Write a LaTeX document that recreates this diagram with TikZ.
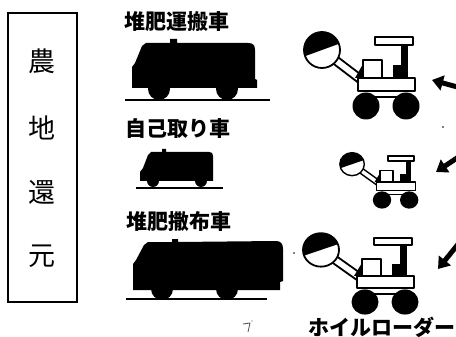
\documentclass[tikz,border=0pt]{standalone}
\usepackage{fontspec}
\newfontfamily\jp{Noto Sans CJK JP}
\usetikzlibrary{arrows.meta}

\tikzset{
  boxchar/.style={inner sep=0pt, font=\jp\fontsize{27}{27}\selectfont},
  vehtxt/.style={inner sep=0pt, font=\jp\bfseries\fontsize{21}{21}\selectfont},
  groundline/.style={line width=2.2pt, line cap=butt},
  fatarrow/.style={line width=5pt, -{Triangle[length=11pt,width=15pt]}},
}

% wheel loader: #1 x, #2 y (front wheel centre), #3 xscale, #4 yscale, #5 line width
\newcommand\drawloader[5]{%
\begin{scope}[shift={(#1,#2)}, xscale=#3, yscale=#4,
    ldout/.style={draw=black, fill=white, line width=#5, line join=round}]
  % boom arm
  \filldraw[ldout] (-46.4,-52.8) -- (-4.4,-20.8) -- (0.4,-27.2) -- (-41.6,-59.2) -- cycle;
  % lift cylinder
  \fill (-11,-28) -- (-3,-42) -- (-1,-28) -- cycle;
  % chassis and engine hood
  \filldraw[ldout] (-8,-28) rectangle (49,-15);
  \filldraw[ldout] (-3,-46) rectangle (16,-28);
  % cab post, step and roof
  \fill (27,-41) rectangle (37,-28);
  \fill (35,-61) rectangle (42,-28);
  \filldraw[ldout] (9,-69) rectangle (47,-61);
  % axle and wheels
  \draw[line width=#5] (0,-9) -- (40,-9);
  \fill (0,0) circle (13.5);
  \fill (40,0) circle (13.5);
  % bucket
  \fill[white] (-44,-56) circle (18);
  \fill (-44,-56) ++(160:18) arc[start angle=160, end angle=340, radius=18] -- cycle;
  \draw[line width=#5] (-44,-56) circle (18);
\end{scope}}

\begin{document}
\begin{tikzpicture}[x=1pt, y=-1pt]
\useasboundingbox (0,0) rectangle (456,337);
\fill[white] (0,0) rectangle (456,337);

% title box
\draw[line width=1.5pt] (8,13) rectangle (77,302);
\node[boxchar] (c1) at (42,61)  {農};
\node[boxchar] (c2) at (42,128) {地};
\node[boxchar] (c3) at (42,192) {還};
\node[boxchar] (c4) at (42,256) {元};

% vehicle names
\node[vehtxt] (n1) at (177,22)  {堆肥運搬車};
\node[vehtxt] (n2) at (178,129) {自己取り車};
\node[vehtxt] (n3) at (179,222) {堆肥撒布車};
\node[vehtxt, anchor=west] (n4) at (308,327) {ホイルローダー};

% manure transport truck
\fill (132,88) -- (132,67) -- (135,63) -- (142,46) -- (146,43) -- (170,43) -- (170,39)
  -- (177,39) -- (177,43) -- (248,43) .. controls (253,43) and (255,45) .. (255,50)
  -- (255,79) -- (257,80) -- (257,88) -- cycle;
\fill (159,89) circle (11);
\fill (227,89) circle (11);
\draw[groundline] (125,100) -- (270,100);

% self-loading truck
\fill (140,181) -- (140,172) -- (143,168) -- (148,155) -- (151,152) -- (162,152) -- (162,149)
  -- (166,149) -- (166,152) -- (209,152) .. controls (212,152) and (213,153) .. (213,156)
  -- (213,181) -- cycle;
\fill (153,181) circle (6);
\fill (201,181) circle (6);
\draw[groundline] (136,188) -- (223,188);

% manure spreader
\fill (133,290) -- (133,264) -- (136,260) -- (144,245) -- (148,242) -- (172,242) -- (172,239)
  -- (178,239) -- (178,242) -- (276,241) .. controls (281,241) and (283,244) .. (283,249)
  -- (283,281) -- (280,282) -- (280,290) -- cycle;
\fill (162,289) circle (11);
\fill (227,289) circle (11);
\draw[groundline] (126,299) -- (267,299);

% wheel loaders
\drawloader{366}{106}{1}{1}{1.8pt}
\drawloader{382}{200}{0.68}{0.64}{1.4pt}
\drawloader{365}{302}{1}{0.93}{1.8pt}

% arrows towards the loaders
\coordinate (a1s) at (461,88);  \coordinate (a1e) at (432,80);
\coordinate (a2s) at (460,156); \coordinate (a2e) at (436,172);
\coordinate (a3s) at (459,243); \coordinate (a3e) at (438,269);
\draw[fatarrow] (a1s) -- (a1e);
\draw[fatarrow] (a2s) -- (a2e);
\draw[fatarrow] (a3s) -- (a3e);

% small marks
\fill (443,127) circle (0.9);
\fill (294,253) circle (0.9);
\draw[line width=0.8pt, black!70] (243,324) -- (250,323) -- (248,332);
\fill[black!70] (252,321) circle (0.6);
\end{tikzpicture}
\end{document}
